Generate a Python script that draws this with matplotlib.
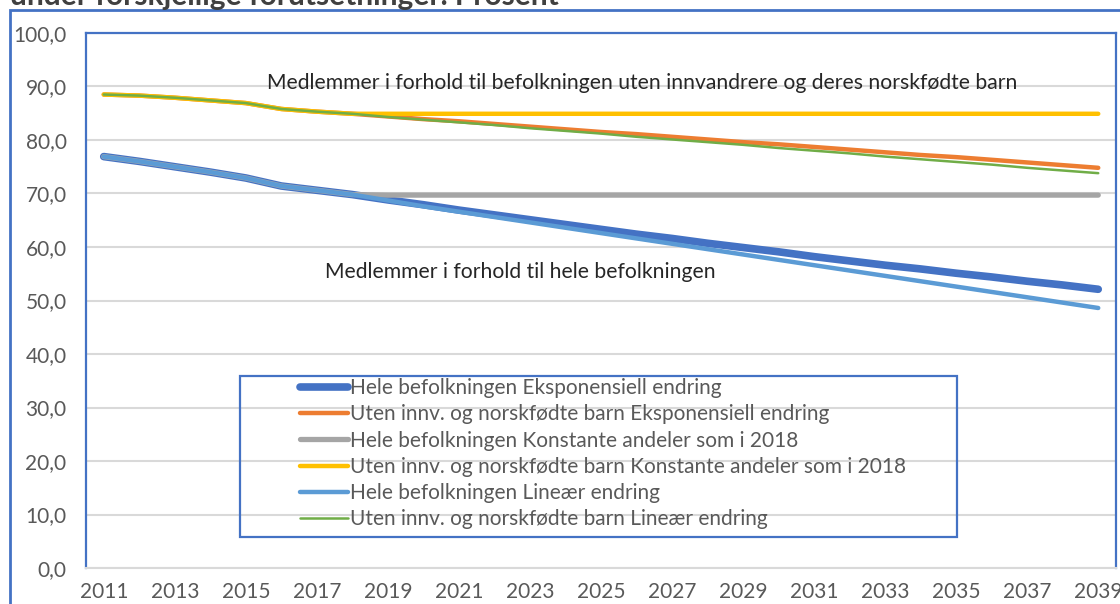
import matplotlib
matplotlib.use("Agg")
import matplotlib.pyplot as plt
from matplotlib.patches import Rectangle

plt.rcParams['font.family'] = ['Lato', 'DejaVu Sans']

years = list(range(2011, 2040))
tick_years = list(range(2011, 2040, 2))
y_ticks = [0, 10, 20, 30, 40, 50, 60, 70, 80, 90, 100]

# historisk del 2011-2018, felles for alle framskrivingene
hele_hist = [76.9, 76.0, 75.0, 74.0, 72.9, 71.4, 70.6, 69.8]
uten_hist = [88.5, 88.3, 87.9, 87.4, 86.9, 85.8, 85.3, 84.9]

hele_eksp = hele_hist + [68.8, 67.9, 66.9, 66.0, 65.1, 64.2, 63.3, 62.4, 61.6, 60.7,
                         59.9, 59.1, 58.2, 57.4, 56.6, 55.9, 55.1, 54.4, 53.6, 52.9, 52.1]
uten_eksp = uten_hist + [84.4, 83.9, 83.5, 83.0, 82.5, 82.0, 81.5, 81.1, 80.6, 80.1,
                         79.6, 79.2, 78.7, 78.2, 77.7, 77.2, 76.8, 76.3, 75.8, 75.3, 74.8]
hele_konst = hele_hist + [69.7] * 21
uten_konst = uten_hist + [84.9] * 21
hele_lin = hele_hist + [68.7, 67.6, 66.6, 65.6, 64.6, 63.6, 62.6, 61.6, 60.6, 59.6,
                        58.6, 57.6, 56.6, 55.6, 54.6, 53.6, 52.6, 51.6, 50.6, 49.6, 48.6]
uten_lin = uten_hist + [84.3, 83.8, 83.3, 82.8, 82.2, 81.7, 81.2, 80.6, 80.1, 79.6,
                        79.1, 78.5, 78.0, 77.5, 76.9, 76.4, 75.9, 75.4, 74.8, 74.3, 73.8]

series = [
    ("Hele befolkningen Eksponensiell endring", hele_eksp, "#4472C4", 5.5),
    ("Uten innv. og norskfødte barn Eksponensiell endring", uten_eksp, "#ED7D31", 3.2),
    ("Hele befolkningen Konstante andeler som i 2018", hele_konst, "#A5A5A5", 3.8),
    ("Uten innv. og norskfødte barn Konstante andeler som i 2018", uten_konst, "#FFC000", 3.2),
    ("Hele befolkningen Lineær endring", hele_lin, "#5B9BD5", 3.2),
    ("Uten innv. og norskfødte barn Lineær endring", uten_lin, "#70AD47", 1.8),
]

W, H = 1120, 604
fig = plt.figure(figsize=(W / 100, H / 100), dpi=100)
ax_l, ax_r, ax_t, ax_b = 86, 1116, 33, 568
ax = fig.add_axes([ax_l / W, 1 - ax_b / H, (ax_r - ax_l) / W, (ax_b - ax_t) / H])

for label, vals, color, lw in series:
    ax.plot(years, vals, color=color, lw=lw, label=label, solid_capstyle='round')

ax.set_xlim(2010.5, 2039.5)
ax.set_ylim(0, 100)
ax.set_yticks(y_ticks)
ax.set_yticklabels([f"{v},0" for v in y_ticks])
ax.set_xticks(tick_years)
ax.set_xticklabels([str(y) for y in tick_years])
ax.tick_params(length=0, labelsize=15, labelcolor="#595959")
ax.tick_params(axis='x', pad=10)
ax.tick_params(axis='y', pad=14)
ax.grid(axis='y', color="#D9D9D9", lw=1.5)
ax.set_axisbelow(True)

for side in ['left', 'top', 'right']:
    ax.spines[side].set_color("#4472C4")
    ax.spines[side].set_linewidth(1.6)
ax.spines['bottom'].set_color("#D9D9D9")
ax.spines['bottom'].set_linewidth(1.5)

ax.text(2026.15, 90.65, "Medlemmer i forhold til befolkningen uten innvandrere og deres norskfødte barn",
        ha='center', va='center', fontsize=15.2, color="#262626")
ax.text(2022.72, 55.3, "Medlemmer i forhold til hele befolkningen",
        ha='center', va='center', fontsize=15.2, color="#262626")


def axx(px):
    return (px - ax_l) / (ax_r - ax_l)


def axy(py):
    return (ax_b - py) / (ax_b - ax_t)


# legendeboks
ax.add_patch(Rectangle((axx(240), axy(537)), axx(957) - axx(240), axy(376) - axy(537),
                       transform=ax.transAxes, fill=False, edgecolor="#4472C4",
                       lw=1.6, zorder=5))
leg = ax.legend(loc='upper left', bbox_to_anchor=(axx(298), axy(376)),
                frameon=False, fontsize=15, handlelength=2.3, borderaxespad=0,
                handletextpad=0.1, labelspacing=0.3, borderpad=0.1)
for t in leg.get_texts():
    t.set_color("#595959")

# ytre ramme
fig.patches.append(Rectangle((10 / W, -0.2), 1.2, 1.2 - 10 / H,
                             transform=fig.transFigure, fill=False,
                             edgecolor="#4472C4", lw=2.0))
fig.text(10 / W, 1 - 5 / H, "under forskjellige forutsetninger. Prosent",
         fontsize=21.5, fontweight='bold', color="#404040", ha='left', va='baseline')

fig.savefig("out.png", dpi=100)
